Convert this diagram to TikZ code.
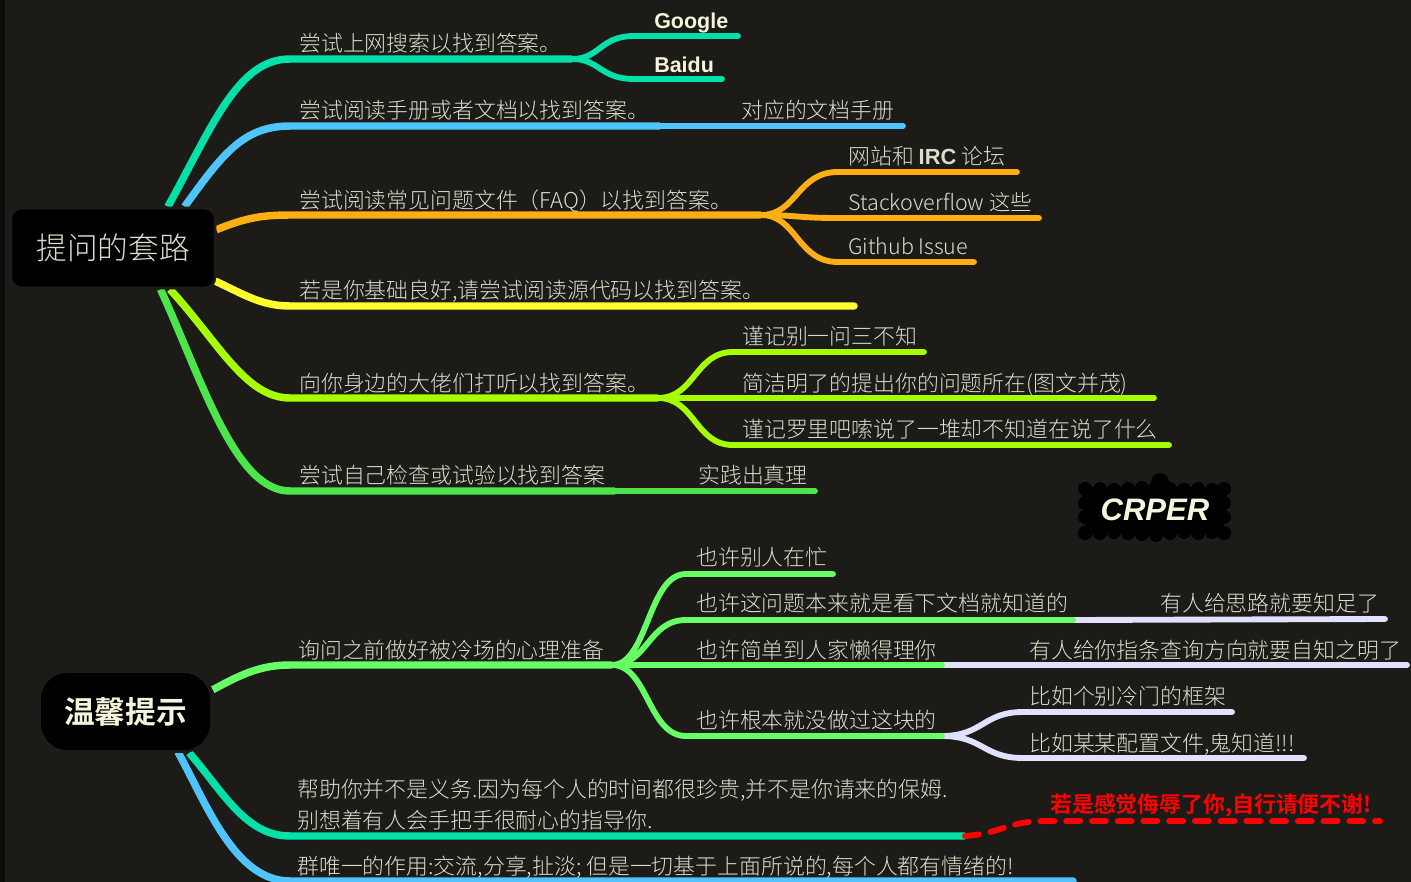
\documentclass[tikz,border=0pt]{standalone}
\usepackage{fontspec}
\usepackage{xcolor}
\usetikzlibrary{backgrounds}
\setmainfont{Noto Sans CJK SC}[UprightFont={* Light},BoldFont={* Bold}]
\newfontfamily\latinbold{Liberation Sans}
\definecolor{mmback}{HTML}{1C1B17}
\definecolor{mmstrip}{HTML}{0B0B0B}
\definecolor{mmtext}{HTML}{DCDCCB}
\definecolor{mmroot}{HTML}{F5F5DC}
\definecolor{mmteal}{HTML}{00E0A8}
\definecolor{mmblue}{HTML}{50C4FF}
\definecolor{mmorange}{HTML}{FFAE14}
\definecolor{mmyellow}{HTML}{FFFF2E}
\definecolor{mmlime}{HTML}{A6FF00}
\definecolor{mmgreen}{HTML}{4CE64C}
\definecolor{mmmint}{HTML}{66FF66}
\definecolor{mmlav}{HTML}{E0E0FF}
\tikzset{
  item/.style={anchor=base west,inner sep=0pt,text=mmtext,font=\fontsize{16.4}{23}\selectfont},
  rootbox/.style={fill=black,draw=mmback,line width=2pt,inner sep=0pt},
  main/.style={line width=5.6pt},
  sub/.style={line width=4.4pt,line cap=round},
}
\begin{document}
\begin{tikzpicture}[x=0.75pt,y=-0.75pt]
            \useasboundingbox (0,0) rectangle (1411,882);

            % roots
            \node[rootbox,rounded corners=8pt,minimum width=153pt,minimum height=60pt,text=mmtext,font=\fontsize{23}{28}\selectfont] (ask) at (113,248) {提问的套路};
            \node[rootbox,rounded corners=21pt,minimum width=129pt,minimum height=60pt,text=mmroot,font=\fontsize{23}{28}\bfseries\selectfont] (tips) at (125.5,711.5) {温馨提示};

            % first tree, labels
            \node[item] (q1) at (299,51) {尝试上网搜索以找到答案。};
            \node[item,text=mmroot,font=\latinbold\fontsize{16.1}{20}\bfseries\selectfont] (google) at (654,28) {Google};
            \node[item,text=mmroot,font=\latinbold\fontsize{16.1}{20}\bfseries\selectfont] (baidu) at (654,72) {Baidu};
            \node[item] (q2) at (299,118) {尝试阅读手册或者文档以找到答案。};
            \node[item] (manual) at (741,118) {对应的文档手册};
            \node[item] (q3) at (299,208) {尝试阅读常见问题文件（FAQ）以找到答案。};
            \node[item] (irc) at (848,164) {网站和 {\latinbold\bfseries IRC} 论坛};
            \node[item,font=\fontsize{16.1}{23}\selectfont] (so) at (848,210) {Stackoverflow 这些};
            \node[item,font=\fontsize{16.1}{23}\selectfont] (issue) at (848,254) {Github Issue};
            \node[item] (q4) at (299,298) {若是你基础良好,请尝试阅读源代码以找到答案。};
            \node[item] (q5) at (299,391) {向你身边的大佬们打听以找到答案。};
            \node[item] (forget) at (742,344) {谨记别一问三不知};
            \node[item] (brief) at (742,391) {简洁明了的提出你的问题所在(图文并茂)};
            \node[item] (ramble) at (742,437) {谨记罗里吧嗦说了一堆却不知道在说了什么};
            \node[item] (q6) at (299,483) {尝试自己检查或试验以找到答案};
            \node[item] (practice) at (698,483) {实践出真理};

            % badge
            \foreach \x/\dy in {1086/1,1100/0,1114/1,1128/0,1142/-1,1156/-2,1170/0,1184/1,1198/0,1212/1,1224/0}{
              \fill[black] (\x,489+\dy) circle (7);
              \fill[black] (\x,533-\dy) circle (7);
            }
            \foreach \y in {489,503,517,533}{
              \fill[black] (1085,\y) circle (7);
              \fill[black] (1224,\y) circle (7);
            }
            \fill[black] (1160,482) circle (9);
            \node[fill=black,minimum width=104pt,minimum height=34pt,inner sep=0pt,text=mmroot,font=\latinbold\fontsize{23.3}{28}\bfseries\itshape\selectfont] (crper) at (1155,510) {CRPER};

            % second tree, labels
            \node[item] (w1) at (298,658) {询问之前做好被冷场的心理准备};
            \node[item] (busy) at (696,565) {也许别人在忙};
            \node[item] (docs) at (696,611) {也许这问题本来就是看下文档就知道的};
            \node[item] (hint) at (1160,611) {有人给思路就要知足了};
            \node[item] (lazy) at (696,658) {也许简单到人家懒得理你};
            \node[item] (way) at (1029,658) {有人给你指条查询方向就要自知之明了};
            \node[item] (never) at (696,728) {也许根本就没做过这块的};
            \node[item] (cold) at (1029,704) {比如个别冷门的框架};
            \node[item] (conf) at (1029,751) {比如某某配置文件,鬼知道!!!};
            \node[item,anchor=west,align=left] (w2) at (297,804.5) {帮助你并不是义务.因为每个人的时间都很珍贵,并不是你请来的保姆.\\别想着有人会手把手很耐心的指导你.};
            \node[anchor=base,inner sep=0pt,text=red,font=\fontsize{16.4}{20}\bfseries\selectfont] (insult) at (1211,812) {若是感觉侮辱了你,自行请便不谢!};
            \node[item] (w3) at (297,874) {群唯一的作用:交流,分享,扯淡; 但是一切基于上面所说的,每个人都有情绪的!};

            \begin{scope}[on background layer]
            \fill[mmback] (0,0) rectangle (1411,882);
            \fill[mmstrip] (0,0) rectangle (5,882);

            % first tree
            \coordinate (j1) at (572,59);
            \coordinate (j2) at (660,126);
            \coordinate (j3) at (761,215);
            \coordinate (j5) at (658,398);
            \coordinate (j6) at (615,491);
            \draw[sub,mmteal] (j1) .. controls (600,59) and (600,36) .. (634,36) -- (738,36);
            \draw[sub,mmteal] (j1) .. controls (600,59) and (600,79) .. (634,79) -- (722,79);
            \draw[main,mmteal] (ask.37) .. controls (213,125) and (238,59) .. (290,59) -- (j1);
            \draw[sub,mmblue] (j2) -- (903,126);
            \draw[main,mmblue] (ask.30) .. controls (222,155) and (243,126) .. (290,126) -- (j2);
            \draw[sub,mmorange] (j3) .. controls (797,215) and (797,172) .. (838,172) -- (1017,172);
            \draw[sub,mmorange] (j3) .. controls (797,215) and (797,218) .. (838,218) -- (1039,218);
            \draw[sub,mmorange] (j3) .. controls (797,215) and (797,262) .. (838,262) -- (974,262);
            \draw[main,mmorange] (ask.10) .. controls (245,218) and (262,215) .. (290,215) -- (j3);
            \draw[main,mmyellow,line cap=round] (ask.-18) .. controls (245,295) and (262,306) .. (290,306) -- (854,306);
            \draw[sub,mmlime] (j5) .. controls (695,398) and (695,352) .. (733,352) -- (924,352);
            \draw[sub,mmlime] (j5) -- (1154,398);
            \draw[sub,mmlime] (j5) .. controls (695,398) and (695,445) .. (733,445) -- (1169,445);
            \draw[main,mmlime] (ask.-36) .. controls (217,340) and (245,398) .. (290,398) -- (j5);
            \draw[sub,mmgreen] (j6) -- (815,491);
            \draw[main,mmgreen] (ask.-41) .. controls (202,380) and (235,491) .. (290,491) -- (j6);

            % second tree
            \coordinate (k0) at (612,665);
            \coordinate (k1) at (1073,620);
            \coordinate (k2) at (942,665);
            \coordinate (k3) at (942,736);
            \coordinate (k4) at (965,836);
            \draw[sub,mmlav] (k1) -- (1385,619);
            \draw[sub,mmlav] (k2) -- (1407,665);
            \draw[sub,mmlav] (k3) .. controls (983,736) and (983,712) .. (1023,712) -- (1232,712);
            \draw[sub,mmlav] (k3) .. controls (983,736) and (983,758) .. (1023,758) -- (1304,758);
            \draw[sub,mmmint] (k0) .. controls (648,665) and (648,574) .. (686,574) -- (833,574);
            \draw[sub,mmmint] (k0) .. controls (648,665) and (648,620) .. (686,620) -- (k1);
            \draw[sub,mmmint] (k0) -- (k2);
            \draw[sub,mmmint] (k0) .. controls (648,665) and (648,736) .. (686,736) -- (k3);
            \draw[main,mmmint] (tips.14) .. controls (240,675) and (260,665) .. (290,665) -- (k0);
            \draw[main,mmteal] (tips.-33) .. controls (222,790) and (245,836) .. (290,836) -- (k4);
            \draw[main,mmblue,line cap=round] (tips.-38) .. controls (207,805) and (235,881) .. (290,881) -- (1073,881);
            \draw[sub,red,line cap=round,dash pattern=on 10.5pt off 8.8pt] (k4) .. controls (1005,833) and (1005,821) .. (1048,821) -- (1380,821);
            \end{scope}
        \end{tikzpicture}
\end{document}
